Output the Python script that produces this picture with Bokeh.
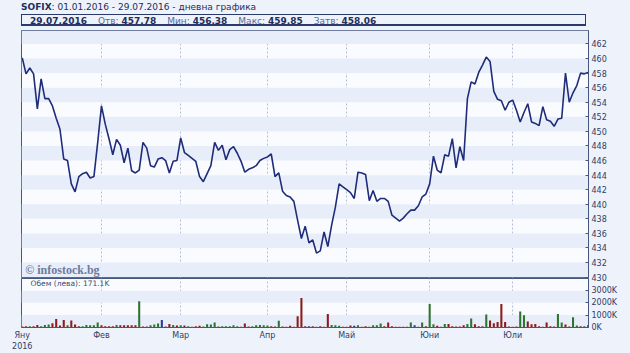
from bokeh.plotting import figure
from bokeh.models import (Range1d, FixedTicker, Label, Div, ColumnDataSource,
                          CustomJSTickFormatter)
from bokeh.layouts import column
from bokeh.embed import file_html
from bokeh.resources import INLINE

# ---------------- data ----------------
index_name = "SOFIX"
period_text = "01.01.2016 - 29.07.2016 - дневна графика"
last_date = "29.07.2016"
stat_labels = ["Отв:", "Мин:", "Макс:", "Затв:"]
stat_values = ["457.78", "456.38", "459.85", "458.06"]
volume_caption = "Обем (лева): 171.1K"
watermark = "© infostock.bg"

close = [
    460.1, 457.9, 458.7, 457.9, 453.1, 457.2, 454.5, 454.5, 453.5, 451.8,
    450.3, 446.2, 446.0, 442.8, 441.7, 443.8, 444.2, 444.4, 443.6, 443.8,
    448.5, 453.5, 451.0, 449.0, 446.8, 448.9, 448.1, 445.7, 447.7, 444.6,
    444.3, 444.7, 448.5, 447.7, 445.3, 445.1, 446.2, 446.4, 446.0, 444.3,
    445.9, 446.0, 449.1, 447.1, 446.7, 446.3, 445.9, 443.8, 443.1, 444.2,
    445.3, 448.5, 447.4, 448.1, 446.1, 447.5, 447.9, 447.0, 445.9, 444.4,
    444.8, 445.0, 445.3, 446.0, 446.3, 446.5, 446.9, 443.8, 444.3, 441.8,
    441.2, 441.0, 440.4, 437.8, 435.3, 437.0, 434.7, 435.1, 433.3, 433.6,
    436.2, 434.2, 437.1, 439.6, 442.8, 442.4, 442.0, 441.6, 440.8, 444.4,
    444.3, 444.1, 440.5, 441.9, 440.4, 440.8, 440.8, 440.4, 438.5, 438.1,
    437.7, 438.1, 438.7, 439.2, 439.2, 439.8, 441.0, 441.4, 442.8, 446.6,
    444.7, 444.3, 446.8, 446.6, 449.0, 445.0, 447.9, 446.0, 454.5, 456.8,
    456.5, 458.1, 459.1, 460.2, 459.6, 455.5, 454.4, 454.2, 452.9, 454.0,
    454.3, 452.9, 451.3, 452.6, 453.8, 451.3, 451.1, 450.8, 453.4, 451.6,
    451.4, 450.7, 451.7, 451.8, 458.0, 454.0, 455.3, 456.3, 458.0, 457.9,
    458.1,
]

volume_k = [
    60, 80, 80, 80, 190, 80, 190, 220, 330, 680,
    140, 600, 160, 545, 220, 80, 80, 190, 160, 160,
    380, 160, 80, 80, 80, 190, 160, 160, 160, 160,
    160, 2125, 60, 60, 160, 220, 300, 600, 60, 270,
    190, 140, 160, 140, 80, 40, 80, 110, 60, 245,
    220, 380, 60, 80, 80, 80, 160, 80, 40, 300,
    60, 80, 160, 190, 160, 140, 80, 60, 520, 60,
    30, 110, 30, 900, 2400, 80, 80, 80, 40, 80,
    40, 1090, 190, 160, 110, 40, 40, 140, 110, 160,
    40, 80, 40, 160, 160, 300, 80, 380, 80, 30,
    30, 30, 30, 380, 160, 30, 380, 80, 1900, 245,
    110, 30, 270, 270, 80, 60, 60, 160, 270, 710,
    245, 80, 80, 1035, 545, 330, 435, 1900, 435, 60,
    40, 60, 1280, 980, 465, 245, 270, 80, 40, 380,
    80, 60, 1090, 380, 220, 60, 820, 140, 80, 80,
    171,
]

# day direction of each volume bar: r = down, g = up, b = unchanged
vol_dir = [
    "r", "r", "g", "r", "r", "g", "g", "g", "r", "r",
    "r", "r", "g", "r", "r", "r", "g", "g", "g", "g",
    "g", "r", "r", "r", "r", "g", "r", "r", "r", "r",
    "r", "g", "r", "r", "g", "g", "g", "b", "r", "r",
    "g", "r", "g", "r", "g", "r", "r", "r", "g", "g",
    "g", "g", "r", "g", "g", "g", "g", "g", "r", "r",
    "r", "g", "g", "g", "g", "g", "r", "r", "g", "r",
    "r", "r", "r", "r", "r", "r", "b", "r", "r", "r",
    "r", "r", "g", "g", "g", "r", "r", "r", "b", "g",
    "r", "r", "r", "g", "g", "g", "r", "r", "r", "r",
    "r", "r", "r", "g", "b", "r", "g", "r", "g", "g",
    "r", "r", "g", "r", "r", "r", "r", "r", "g", "g",
    "r", "r", "r", "g", "r", "r", "r", "r", "r", "r",
    "r", "r", "g", "g", "r", "r", "r", "r", "r", "r",
    "r", "r", "g", "g", "r", "r", "g", "g", "r", "g",
    "g",
]

price_ticks = [430, 432, 434, 436, 438, 440, 442, 444, 446, 448,
               450, 452, 454, 456, 458, 460, 462]
vol_ticks = [0, 1000000, 2000000, 3000000]
vol_bands = [0, 1000000, 2000000, 3000000, 4000000]
month_pos = [0, 21, 42, 65, 86, 108, 130]
month_labels = ["Яну\n2016", "Фев", "Мар", "Апр", "Май", "Юни", "Юли"]

# ---------------- styling ----------------
PAGE = "#EEF2FB"
FRAME = "#FAFBFE"
BAND = "#E8EEF9"
AXIS = "#46577E"
TXT = "#2E3D68"
FONT = "DejaVu Sans"
DIR_COLORS = {"r": "#8B1C1C", "g": "#2F7331", "b": "#2A3A8E"}

idx = list(range(len(close)))
vol_idx = list(range(len(volume_k)))
bar_colors = [DIR_COLORS[d] for d in vol_dir]

price_src = ColumnDataSource(dict(x=idx, close=close))
vol_src = ColumnDataSource(dict(x=vol_idx, vol=[v * 1000 for v in volume_k], color=bar_colors))

x_range = Range1d(-0.2, 150.1)

# ---------------- header ----------------
stats_html = "".join(
    f'<span style="color:#5A6A96;margin-left:11px;">{l}</span> '
    f'<b style="color:#1E2D5C;">{v}</b>'
    for l, v in zip(stat_labels, stat_values)
)
header_html = f"""
<div style="position:relative;width:630px;height:28px;background:{PAGE};
font-family:'DejaVu Sans';font-size:9px;color:#1E2D5C;">
  <div style="position:absolute;left:21px;top:1px;white-space:nowrap;">
    <b>{index_name}</b>: {period_text}
  </div>
  <div style="position:absolute;left:21px;top:14px;width:565px;height:12px;
  border:1px solid #2A3A6A;border-bottom:2px solid #2A3A6A;white-space:nowrap;
  line-height:12px;">
    <b style="margin-left:8px;">{last_date}</b>{stats_html}
  </div>
</div>
"""
header = Div(text=header_html, width=630, height=28, margin=(0, 0, 0, 0),
             styles={"background-color": PAGE})


def style_right_axis(ax):
    ax.axis_line_color = AXIS
    ax.major_tick_line_color = AXIS
    ax.major_tick_in = 3
    ax.major_tick_out = 0
    ax.minor_tick_line_color = None
    ax.minor_tick_in = 0
    ax.minor_tick_out = 0
    ax.major_label_standoff = 3
    ax.major_label_text_font = FONT
    ax.major_label_text_font_size = "8px"
    ax.major_label_text_color = TXT


# ---------------- price panel ----------------
p1 = figure(width=630, height=255, x_range=x_range, y_range=Range1d(429.95, 463.85),
            output_backend="svg", toolbar_location=None,
            x_axis_location=None, y_axis_location="right",
            min_border_left=21, min_border_right=42, min_border_top=2, min_border_bottom=6,
            background_fill_color=FRAME, border_fill_color=PAGE,
            outline_line_color=AXIS, outline_line_width=1, margin=(0, 0, 0, 0))

p1.yaxis.ticker = FixedTicker(ticks=price_ticks)
style_right_axis(p1.yaxis[0])

p1.ygrid.ticker = FixedTicker(ticks=price_ticks)
p1.ygrid.grid_line_color = None
p1.ygrid.band_fill_color = BAND
p1.ygrid.band_fill_alpha = 1.0

p1.xgrid.ticker = FixedTicker(ticks=month_pos[1:])
p1.xgrid.grid_line_color = "#B3BED6"
p1.xgrid.grid_line_dash = "2 2"
p1.xgrid.grid_line_width = 1

p1.line("x", "close", source=price_src, line_color="#1F2C7A", line_width=1.6)

p1.add_layout(Label(x=0.8, y=431.0, text=watermark, text_font="Liberation Serif",
                    text_font_style="bold", text_font_size="12px", text_color="#6C7B9E",
                    text_baseline="alphabetic", text_align="left"))

# ---------------- volume panel ----------------
p2 = figure(width=630, height=76, x_range=x_range, y_range=Range1d(-25000, 4000000),
            output_backend="svg", toolbar_location=None,
            x_axis_location="below", y_axis_location="right",
            min_border_left=21, min_border_right=42, min_border_top=1, min_border_bottom=26,
            background_fill_color=FRAME, border_fill_color=PAGE, border_fill_alpha=0,
            outline_line_color=AXIS, outline_line_width=1, margin=(-6, 0, 0, 0))

p2.yaxis.ticker = FixedTicker(ticks=vol_ticks)
p2.yaxis.formatter = CustomJSTickFormatter(code="return (tick / 1000).toFixed(0) + 'K';")
style_right_axis(p2.yaxis[0])

p2.xaxis.ticker = FixedTicker(ticks=month_pos)
p2.xaxis.major_label_overrides = {p: l for p, l in zip(month_pos, month_labels)}
p2.xaxis.axis_line_color = AXIS
p2.xaxis.major_tick_line_color = None
p2.xaxis.major_tick_in = 0
p2.xaxis.major_tick_out = 0
p2.xaxis.minor_tick_line_color = None
p2.xaxis.minor_tick_in = 0
p2.xaxis.minor_tick_out = 0
p2.xaxis.major_label_standoff = 3
p2.xaxis.major_label_text_font = FONT
p2.xaxis.major_label_text_font_size = "8px"
p2.xaxis.major_label_text_line_height = 1.25
p2.xaxis.major_label_text_color = TXT

p2.ygrid.ticker = FixedTicker(ticks=vol_bands)
p2.ygrid.grid_line_color = None
p2.ygrid.band_fill_color = BAND
p2.ygrid.band_fill_alpha = 1.0

p2.xgrid.ticker = FixedTicker(ticks=month_pos[1:])
p2.xgrid.grid_line_color = "#B3BED6"
p2.xgrid.grid_line_dash = "2 2"

p2.vbar(x="x", top="vol", width=0.55, bottom=0, source=vol_src,
        fill_color="color", line_color=None)

p2.add_layout(Label(x=2.2, y=3570000, text=volume_caption, text_font=FONT,
                    text_font_size="7.5px", text_color="#3A4A70",
                    text_baseline="middle", text_align="left"))

layout = column(header, p1, p2, spacing=0, styles={"background-color": PAGE})

open("out.html", "w").write(file_html(layout, INLINE))
